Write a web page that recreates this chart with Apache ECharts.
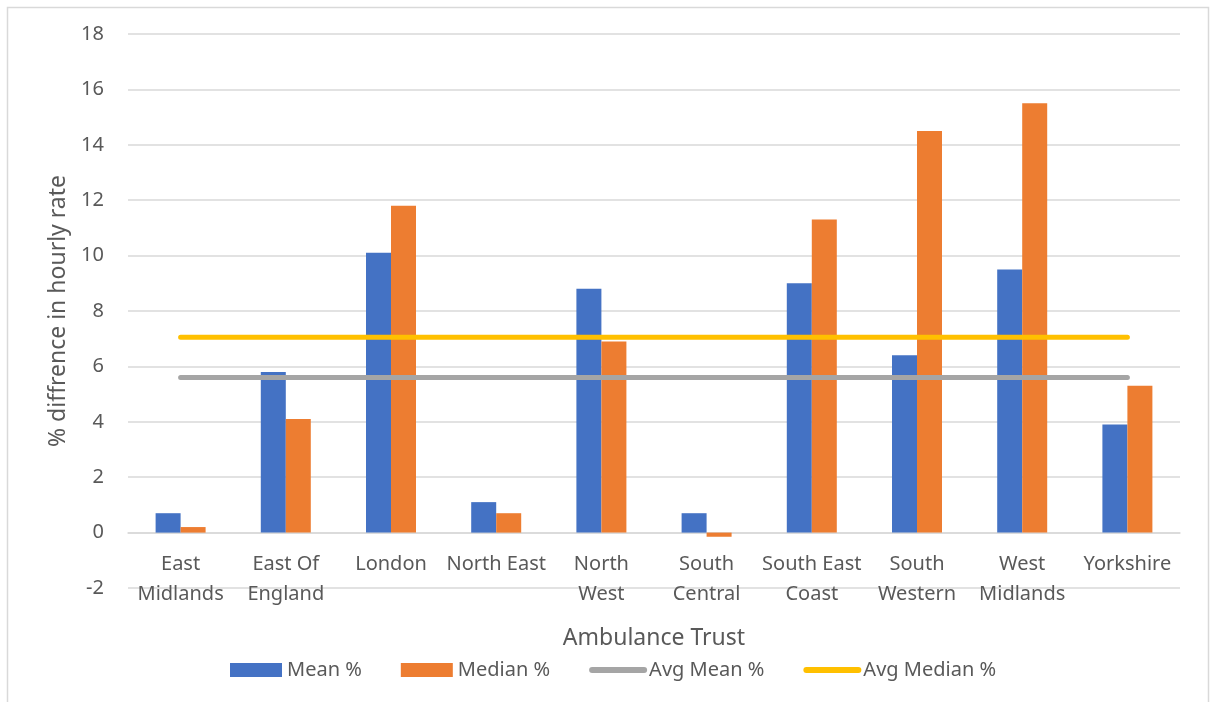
<!DOCTYPE html>
<html>
<head>
<meta charset="utf-8">
<title>Ambulance Trust pay gap</title>
<script src="https://cdn.jsdelivr.net/npm/echarts@6/dist/echarts.min.js"></script>
<style>
  html, body { margin: 0; padding: 0; background: #fff; }
  #chart { width: 1210px; height: 702px; }
</style>
</head>
<body>
<div id="chart"></div>
<script>
// Ambulance trusts and their % difference in hourly rate
const trusts = ['East\nMidlands', 'East Of\nEngland', 'London', 'North East', 'North\nWest',
                'South\nCentral', 'South East\nCoast', 'South\nWestern', 'West\nMidlands', 'Yorkshire'];
const meanPct   = [0.7, 5.8, 10.1, 1.1, 8.8, 0.7, 9.0, 6.4, 9.5, 3.9];
const medianPct = [0.2, 4.1, 11.8, 0.7, 6.9, -0.15, 11.3, 14.5, 15.5, 5.3];
const avgMean = 5.6;
const avgMedian = 7.05;
const yTicks = { min: -2, max: 18, interval: 2 };

const FONT = '"Noto Sans", "Open Sans", sans-serif';
const TEXT = '#595959';
const GRID = '#d9d9d9';

// plot box in pixels; the category axis sits on the zero line
const PLOT = { left: 128, right: 30, top: 34, bottom: 114 };
const plotH = 702 - PLOT.top - PLOT.bottom;
const zeroShift = plotH * (0 - yTicks.min) / (yTicks.max - yTicks.min);

const chart = echarts.init(document.getElementById('chart'), null, { renderer: 'canvas' });

chart.setOption({
  animation: false,
  backgroundColor: '#fff',
  textStyle: { fontFamily: FONT, color: TEXT },
  graphic: [{
    type: 'rect',
    shape: { x: 7.5, y: 7.5, width: 1201, height: 720 },
    style: { fill: 'none', stroke: GRID, lineWidth: 1.5 },
    silent: true, z: -10
  }],
  grid: Object.assign({ containLabel: false, outerBoundsMode: 'none' }, PLOT),
  legend: {
    left: 230, top: 660, padding: 0,
    itemWidth: 52, itemHeight: 14, itemGap: 39,
    textStyle: { fontFamily: FONT, fontSize: 20, color: TEXT },
    data: [
      { name: 'Mean %', icon: 'rect' },
      { name: 'Median %', icon: 'rect' },
      { name: 'Avg Mean %', itemStyle: { opacity: 0 }, lineStyle: { width: 6, cap: 'round', color: '#a5a5a5' } },
      { name: 'Avg Median %', itemStyle: { opacity: 0 }, lineStyle: { width: 6, cap: 'round', color: '#ffc000' } }
    ]
  },
  xAxis: {
    type: 'category',
    data: trusts,
    offset: -zeroShift,
    name: 'Ambulance Trust',
    nameLocation: 'middle',
    nameGap: 94,
    nameTextStyle: { fontFamily: FONT, fontSize: 23, color: TEXT },
    axisLine: { onZero: false, lineStyle: { color: GRID, width: 1.5 } },
    axisTick: { show: false },
    axisLabel: { fontFamily: FONT, fontSize: 20, color: TEXT, lineHeight: 30, margin: 17, interval: 0 }
  },
  yAxis: {
    type: 'value',
    min: yTicks.min, max: yTicks.max, interval: yTicks.interval,
    name: '% diffrence in hourly rate',
    nameLocation: 'middle',
    nameGap: 58,
    nameTextStyle: { fontFamily: FONT, fontSize: 23, color: TEXT },
    axisLine: { show: false },
    axisTick: { show: false },
    axisLabel: { fontFamily: FONT, fontSize: 20, color: TEXT, margin: 24 },
    splitLine: { lineStyle: { color: GRID, width: 1.5 } }
  },
  series: [
    {
      name: 'Mean %', type: 'bar', data: meanPct,
      barWidth: 25, barGap: '0%',
      itemStyle: { color: '#4472c4' }
    },
    {
      name: 'Median %', type: 'bar', data: medianPct,
      barWidth: 25, barGap: '0%',
      itemStyle: { color: '#ed7d31' }
    },
    {
      name: 'Avg Mean %', type: 'line', data: trusts.map(() => avgMean),
      symbol: 'none', z: 5,
      lineStyle: { color: '#a5a5a5', width: 5, cap: 'round' },
      itemStyle: { color: '#a5a5a5' }
    },
    {
      name: 'Avg Median %', type: 'line', data: trusts.map(() => avgMedian),
      symbol: 'none', z: 5,
      lineStyle: { color: '#ffc000', width: 5, cap: 'round' },
      itemStyle: { color: '#ffc000' }
    }
  ]
});
</script>
</body>
</html>
